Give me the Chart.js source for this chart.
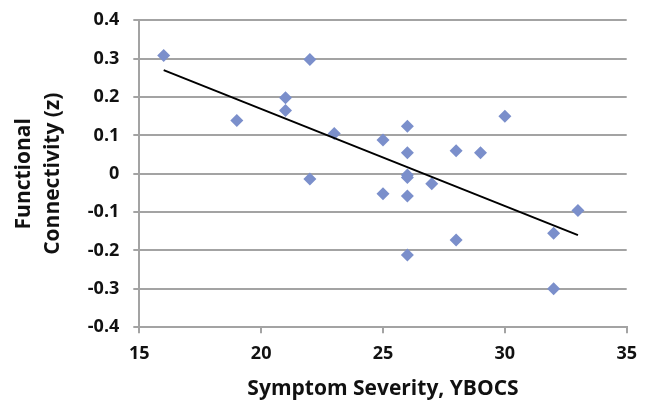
<!DOCTYPE html>
<html>
<head>
<meta charset="utf-8">
<script src="https://cdn.jsdelivr.net/npm/chart.js@4/dist/chart.umd.min.js"></script>
<style>
    html, body { margin: 0; padding: 0; background: #ffffff; }
    #wrap { width: 647px; height: 403px; }
</style>
</head>
<body>
<div id="wrap"><canvas id="scatterChart" width="647" height="403"></canvas></div>
<script>
/* ==========================================
   DATA
========================================== */

const severity = [16, 19, 21, 21, 22, 22, 23, 25, 25, 26, 26, 26, 26, 26, 26, 27, 28, 28, 29, 30, 32, 32, 33];
const connectivity = [0.308, 0.139, 0.198, 0.165, 0.298, -0.014, 0.105, 0.088, -0.052, 0.124, 0.055, -0.003, -0.01, -0.058, -0.212, -0.026, 0.06, -0.173, 0.055, 0.15, -0.155, -0.30, -0.096];

const trendX = [16, 33];
const trendY = [0.27, -0.16];

const xTicks = [15, 20, 25, 30, 35];
const yTicks = [-0.4, -0.3, -0.2, -0.1, 0, 0.1, 0.2, 0.3, 0.4];

/* ==========================================
   CHART
========================================== */

document.addEventListener("DOMContentLoaded", () => {
    initializeScatterChart();
});

function initializeScatterChart() {

    const canvas = document.getElementById("scatterChart");

    if (!canvas) return;

    const points = severity.map((x, i) => ({ x: x, y: connectivity[i] }));
    const trend = trendX.map((x, i) => ({ x: x, y: trendY[i] }));

    const gridGray = "#a3a3a3";
    const tickFont = { family: "Open Sans", size: 18, weight: "bold" };

    new Chart(canvas, {

        type: "scatter",

        data: {
            datasets: [
                {
                    label: "Trend",
                    data: trend,
                    type: "line",
                    borderColor: "#000000",
                    borderWidth: 2,
                    pointRadius: 0,
                    fill: false,
                    order: 0
                },
                {
                    label: "Subjects",
                    data: points,
                    pointStyle: "rectRot",
                    pointRadius: 6.5,
                    backgroundColor: "#7b8fcb",
                    borderColor: "#7b8fcb",
                    borderWidth: 0,
                    order: 1
                }
            ]
        },

        options: {
            responsive: false,
            animation: false,

            layout: {
                padding: { top: 0, right: 20, left: 9, bottom: 1 }
            },

            plugins: {
                legend: { display: false },
                tooltip: { enabled: false }
            },

            scales: {

                x: {
                    type: "linear",
                    min: 15,
                    max: 35,
                    afterBuildTicks: axis => {
                        axis.ticks = xTicks.map(v => ({ value: v }));
                    },
                    grid: {
                        drawOnChartArea: false,
                        color: gridGray,
                        lineWidth: 2,
                        tickLength: 6
                    },
                    border: { color: gridGray, width: 2 },
                    ticks: {
                        color: "#111111",
                        font: tickFont,
                        padding: 10
                    },
                    title: {
                        display: true,
                        text: "Symptom Severity, YBOCS",
                        color: "#111111",
                        font: { family: "Open Sans", size: 21, weight: "bold" },
                        padding: { top: 2, bottom: 0 }
                    }
                },

                y: {
                    min: -0.4,
                    max: 0.4,
                    afterBuildTicks: axis => {
                        axis.ticks = yTicks.map(v => ({ value: v }));
                    },
                    grid: {
                        color: gridGray,
                        lineWidth: 2,
                        tickLength: 6
                    },
                    border: { color: gridGray, width: 2 },
                    ticks: {
                        color: "#111111",
                        font: { family: "Open Sans", size: 18, weight: "bold", lineHeight: 0.7 },
                        padding: 14,
                        callback: v => (Math.abs(v) < 1e-9 ? "0" : v.toFixed(1))
                    },
                    title: {
                        display: true,
                        text: ["Functional", "Connectivity (z)"],
                        color: "#111111",
                        font: { family: "Open Sans", size: 21, weight: "bold", lineHeight: 1.4 },
                        padding: { top: 0, bottom: 6 }
                    }
                }

            }
        }

    });

}
</script>
</body>
</html>
